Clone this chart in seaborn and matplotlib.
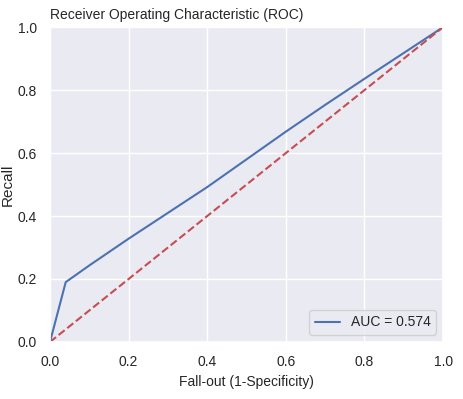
import matplotlib
matplotlib.use("Agg")
import matplotlib.pyplot as plt
import seaborn as sns
import pandas as pd

fpr = [0.0, 0.04, 0.1, 0.2, 0.3, 0.4, 0.5, 0.6, 0.7, 0.8, 0.9, 1.0]
tpr = [0.0, 0.19, 0.243, 0.328, 0.41, 0.492, 0.58, 0.668, 0.753, 0.836, 0.918, 1.0]
diag = [0.0, 1.0]
auc_label = "AUC = 0.574"
title = "Receiver Operating Characteristic (ROC)"

sns.set_theme(style="darkgrid", color_codes=True)
plt.rcParams['font.family'] = ['Liberation Sans', 'DejaVu Sans']

fig = plt.figure(figsize=(4.63, 3.99), dpi=100)
ax = fig.add_axes([0.108, 0.143, 0.849, 0.789])

df = pd.DataFrame({"fpr": fpr, "tpr": tpr})
sns.lineplot(data=df, x="fpr", y="tpr", ax=ax, color="b", label=auc_label,
             linewidth=1.5, estimator=None, sort=False)
ax.plot(diag, diag, "r--", linewidth=1.5)

ax.set_xlim(0, 1)
ax.set_ylim(0, 1)
ax.set_title(title, loc="left", fontsize=10)
ax.set_xlabel("Fall-out (1-Specificity)", fontsize=10)
ax.set_ylabel("Recall", fontsize=11, labelpad=2)
ax.tick_params(labelsize=10)
ax.legend(loc="lower right", fontsize=10, handlelength=1.8)

fig.savefig("out.png", dpi=100)
